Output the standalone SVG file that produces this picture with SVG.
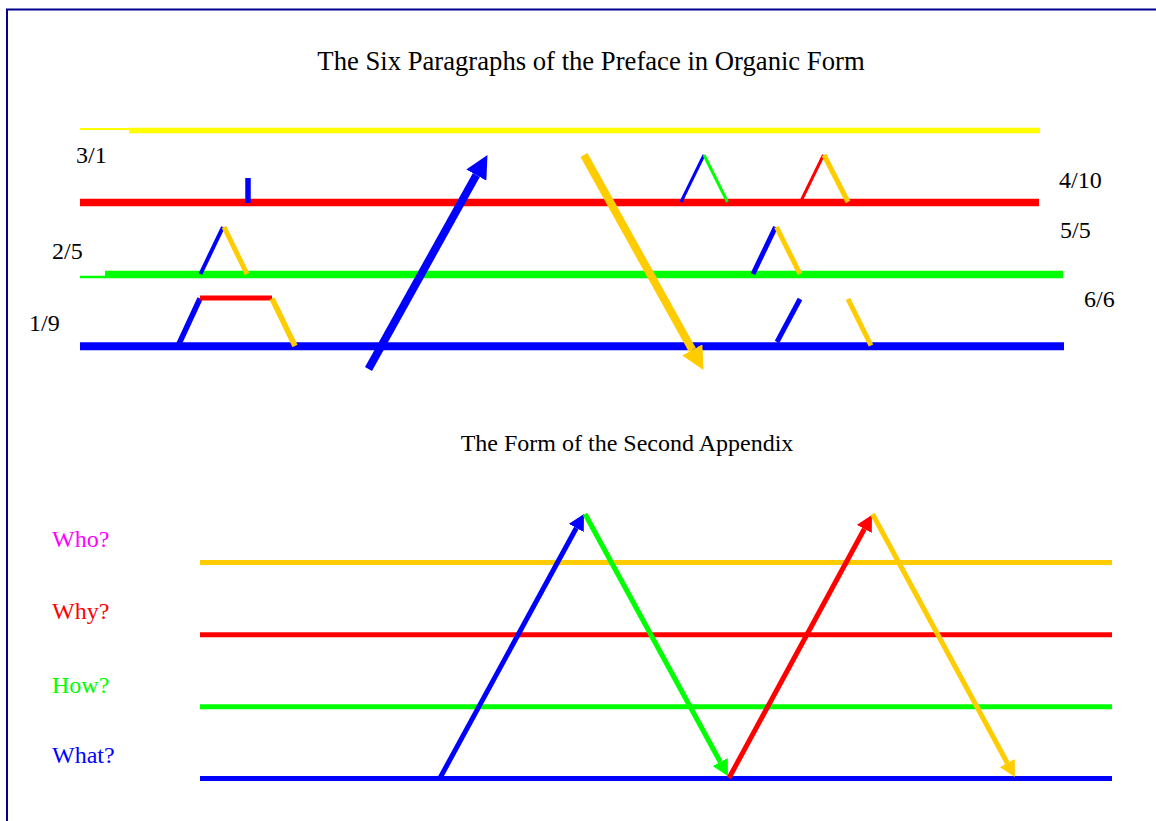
<svg xmlns="http://www.w3.org/2000/svg" width="1156" height="821" viewBox="0 0 1156 821">
<style>
  text { font-family: "Liberation Serif", "Times New Roman", serif; }
  .title { font-size: 26.67px; fill: #000; }
  .sub { font-size: 24px; fill: #000; }
  .lbl { font-size: 24px; fill: #000; }
  .q { font-size: 24px; }
  line { stroke-linecap: butt; }
  .y1 { stroke: #FFFF00; }
  .gold { stroke: #FFCC00; }
  .r { stroke: #FF0000; }
  .g { stroke: #00FF00; }
  .b { stroke: #0000FF; }
</style>
<defs>
  <marker id="hb8" markerUnits="userSpaceOnUse" viewBox="0 0 23 23" refX="0" refY="11.5" markerWidth="23" markerHeight="23" orient="auto"><path d="M0,0 L23,11.5 L0,23 z" fill="#0000FF"/></marker>
  <marker id="hy8" markerUnits="userSpaceOnUse" viewBox="0 0 23 23" refX="0" refY="11.5" markerWidth="23" markerHeight="23" orient="auto"><path d="M0,0 L23,11.5 L0,23 z" fill="#FFCC00"/></marker>
  <marker id="hb5" markerUnits="userSpaceOnUse" viewBox="0 0 16 17" refX="0" refY="8.5" markerWidth="16" markerHeight="17" orient="auto"><path d="M0,0 L16,8.5 L0,17 z" fill="#0000FF"/></marker>
  <marker id="hg5" markerUnits="userSpaceOnUse" viewBox="0 0 16 17" refX="0" refY="8.5" markerWidth="16" markerHeight="17" orient="auto"><path d="M0,0 L16,8.5 L0,17 z" fill="#00FF00"/></marker>
  <marker id="hr5" markerUnits="userSpaceOnUse" viewBox="0 0 16 17" refX="0" refY="8.5" markerWidth="16" markerHeight="17" orient="auto"><path d="M0,0 L16,8.5 L0,17 z" fill="#FF0000"/></marker>
  <marker id="hy5" markerUnits="userSpaceOnUse" viewBox="0 0 16 17" refX="0" refY="8.5" markerWidth="16" markerHeight="17" orient="auto"><path d="M0,0 L16,8.5 L0,17 z" fill="#FFCC00"/></marker>
</defs>
<rect x="0" y="0" width="1156" height="821" fill="#FFFFFF"/>
<rect id="frame" x="7" y="9.5" width="1200" height="900" fill="none" stroke="#000090" stroke-width="2"/>

<g id="titles">
  <text class="title" x="591" y="69.5" text-anchor="middle">The Six Paragraphs of the Preface in Organic Form</text>
  <text class="sub" x="627" y="450.5" text-anchor="middle">The Form of the Second Appendix</text>
</g>

<g id="top-labels">
  <text class="lbl" x="76" y="163">3/1</text>
  <text class="lbl" x="52" y="259">2/5</text>
  <text class="lbl" x="29" y="331">1/9</text>
  <text class="lbl" x="1059" y="188">4/10</text>
  <text class="lbl" x="1060" y="238">5/5</text>
  <text class="lbl" x="1084" y="307">6/6</text>
</g>

<g id="top-levels">
  <line id="lvl-yellow" class="y1" x1="80" y1="129" x2="130" y2="129" stroke-width="2"/>
  <line class="y1" x1="129" y1="130.5" x2="1040" y2="130.5" stroke-width="5.5"/>
  <line id="lvl-red" class="r" x1="80" y1="202.5" x2="1039" y2="202.5" stroke-width="7.5"/>
  <line id="lvl-green" class="g" x1="80" y1="277" x2="106" y2="277" stroke-width="2.5"/>
  <line class="g" x1="105" y1="274.5" x2="1063" y2="274.5" stroke-width="7.5"/>
  <line id="lvl-blue" class="b" x1="80" y1="346.3" x2="1064" y2="346.3" stroke-width="8"/>
</g>

<g id="top-connectors">
  <line class="b" x1="368.5" y1="369" x2="476.3" y2="175.1" stroke-width="8" marker-end="url(#hb8)"/>
  <line class="gold" x1="584" y1="155" x2="692.3" y2="349.9" stroke-width="8" marker-end="url(#hy8)"/>
</g>

<g id="top-figures">
  <line id="tick" class="b" x1="248" y1="178" x2="248" y2="203" stroke-width="5.5"/>
  <g id="peak-a">
    <line class="b" x1="200.5" y1="274" x2="223" y2="227" stroke-width="4"/>
    <line class="gold" x1="224" y1="227" x2="247" y2="274" stroke-width="5"/>
  </g>
  <g id="trapezoid">
    <line class="b" x1="178" y1="346" x2="200" y2="298.5" stroke-width="5.5"/>
    <line class="r" x1="200" y1="298" x2="272" y2="298" stroke-width="5"/>
    <line class="gold" x1="272" y1="298.5" x2="295" y2="346" stroke-width="5.5"/>
  </g>
  <g id="peak-b">
    <line class="b" x1="681" y1="202" x2="704" y2="155" stroke-width="3"/>
    <line class="g" x1="704" y1="155" x2="727.5" y2="202" stroke-width="3"/>
  </g>
  <g id="peak-c">
    <line class="r" x1="801.5" y1="200" x2="823.5" y2="155" stroke-width="3"/>
    <line class="gold" x1="824" y1="155" x2="848" y2="202" stroke-width="5"/>
  </g>
  <g id="peak-d">
    <line class="b" x1="753" y1="274" x2="775.5" y2="227" stroke-width="5"/>
    <line class="gold" x1="776.5" y1="227" x2="800" y2="274" stroke-width="5"/>
  </g>
  <g id="peak-e">
    <line class="b" x1="777" y1="342" x2="800" y2="299" stroke-width="5"/>
    <line class="gold" x1="848" y1="299" x2="871" y2="345.5" stroke-width="5"/>
  </g>
</g>

<g id="bottom-labels">
  <text class="q" x="52" y="547" fill="#FF00FF">Who?</text>
  <text class="q" x="52" y="619" fill="#FF0000">Why?</text>
  <text class="q" x="52" y="693" fill="#00FF00">How?</text>
  <text class="q" x="52" y="763" fill="#0000FF">What?</text>
</g>

<g id="bottom-levels">
  <line id="who" class="gold" x1="200" y1="562.5" x2="1112" y2="562.5" stroke-width="5"/>
  <line id="why" class="r" x1="200" y1="634.8" x2="1112" y2="634.8" stroke-width="5"/>
  <line id="how" class="g" x1="200" y1="706.8" x2="1112" y2="706.8" stroke-width="5"/>
  <line id="what" class="b" x1="200" y1="778.5" x2="1112" y2="778.5" stroke-width="5"/>
</g>

<g id="bottom-connectors">
  <line class="b" x1="440" y1="778" x2="576.3" y2="528" stroke-width="5" marker-end="url(#hb5)"/>
  <line class="g" x1="585" y1="514" x2="720.3" y2="762" stroke-width="5" marker-end="url(#hg5)"/>
  <line class="r" x1="729" y1="778" x2="864.3" y2="529" stroke-width="5" marker-end="url(#hr5)"/>
  <line class="gold" x1="872.5" y1="514" x2="1007.3" y2="763" stroke-width="5" marker-end="url(#hy5)"/>
</g>
</svg>
